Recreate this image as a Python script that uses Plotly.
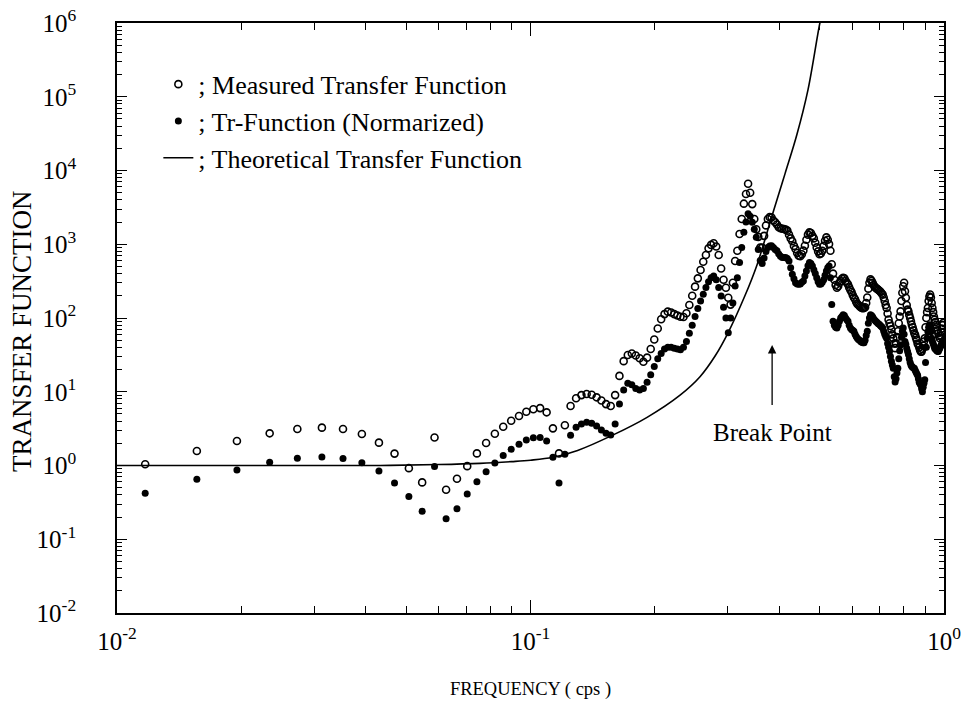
import math
import plotly.graph_objects as go

# Frequency bins (cps)
freq = [
    0.0117, 0.0156, 0.0195, 0.0234, 0.0273, 0.0313, 0.0352, 0.0391, 0.0430, 0.0469,
    0.0508, 0.0547, 0.0586, 0.0625, 0.0664, 0.0703, 0.0742, 0.0781, 0.0820, 0.0859,
    0.0898, 0.0938, 0.0977, 0.1016, 0.1055, 0.1094, 0.1133, 0.1172, 0.1211, 0.1250,
    0.1289, 0.1328, 0.1367, 0.1406, 0.1445, 0.1484, 0.1523, 0.1563, 0.1602, 0.1641,
    0.1680, 0.1719, 0.1758, 0.1797, 0.1836, 0.1875, 0.1914, 0.1953, 0.1992, 0.2031,
    0.2070, 0.2109, 0.2148, 0.2188, 0.2227, 0.2266, 0.2305, 0.2344, 0.2383, 0.2422,
    0.2461, 0.2500, 0.2539, 0.2578, 0.2617, 0.2656, 0.2695, 0.2734, 0.2773, 0.2813,
    0.2852, 0.2891, 0.2930, 0.2969, 0.3008, 0.3047, 0.3086, 0.3125, 0.3164, 0.3203,
    0.3242, 0.3281, 0.3320, 0.3359, 0.3398, 0.3438, 0.3477, 0.3516, 0.3555, 0.3594,
    0.3633, 0.3672, 0.3711, 0.3750, 0.3789, 0.3828, 0.3867, 0.3906, 0.3945, 0.3984,
    0.4023, 0.4063, 0.4102, 0.4141, 0.4180, 0.4219, 0.4258, 0.4297, 0.4336, 0.4375,
    0.4414, 0.4453, 0.4492, 0.4531, 0.4570, 0.4609, 0.4648, 0.4688, 0.4727, 0.4766,
    0.4805, 0.4844, 0.4883, 0.4922, 0.4961, 0.5000, 0.5039, 0.5078, 0.5117, 0.5156,
    0.5195, 0.5234, 0.5273, 0.5313, 0.5352, 0.5391, 0.5430, 0.5469, 0.5508, 0.5547,
    0.5586, 0.5625, 0.5664, 0.5703, 0.5742, 0.5781, 0.5820, 0.5859, 0.5898, 0.5938,
    0.5977, 0.6016, 0.6055, 0.6094, 0.6133, 0.6172, 0.6211, 0.6250, 0.6289, 0.6328,
    0.6367, 0.6406, 0.6445, 0.6484, 0.6523, 0.6563, 0.6602, 0.6641, 0.6680, 0.6719,
    0.6758, 0.6797, 0.6836, 0.6875, 0.6914, 0.6953, 0.6992, 0.7031, 0.7070, 0.7109,
    0.7148, 0.7188, 0.7227, 0.7266, 0.7305, 0.7344, 0.7383, 0.7422, 0.7461, 0.7500,
    0.7539, 0.7578, 0.7617, 0.7656, 0.7695, 0.7734, 0.7773, 0.7813, 0.7852, 0.7891,
    0.7930, 0.7969, 0.8008, 0.8047, 0.8086, 0.8125, 0.8164, 0.8203, 0.8242, 0.8281,
    0.8320, 0.8359, 0.8398, 0.8438, 0.8477, 0.8516, 0.8555, 0.8594, 0.8633, 0.8672,
    0.8711, 0.8750, 0.8789, 0.8828, 0.8867, 0.8906, 0.8945, 0.8984, 0.9023, 0.9063,
    0.9102, 0.9141, 0.9180, 0.9219, 0.9258, 0.9297, 0.9336, 0.9375, 0.9414, 0.9453,
    0.9492, 0.9531, 0.9570, 0.9609, 0.9648, 0.9688, 0.9727, 0.9766, 0.9805, 0.9844,
    0.9883, 0.9922, 0.9961,
]

# Measured transfer function (open circles)
measured = [
    1.04, 1.57, 2.15, 2.73, 3.13, 3.26, 3.13, 2.67, 2.04, 1.45,
    0.92, 0.59, 2.4, 0.47, 0.66, 0.98, 1.46, 2.02, 2.70, 3.36,
    4.05, 4.69, 5.36, 5.78, 6.0, 5.26, 3.19, 1.46, 3.51, 6.41,
    8.15, 9.0, 9.3, 9.1, 8.4, 7.6, 6.8, 6.4, 9.0, 16.4,
    26, 31.5, 33, 31, 28.4, 25.5, 29, 38, 51, 72,
    96, 113, 122, 119, 113, 108, 104, 103, 116, 150,
    200, 266, 345, 448, 580, 714, 880, 980, 1030, 930,
    714, 470, 330, 257, 188, 152, 300, 594, 815, 1380,
    2200, 3550, 4800, 6600, 5000, 3500, 2200, 1600, 1260, 900,
    900, 1300, 1800, 2200, 2330, 2300, 2100, 1990, 1850, 1700,
    1650, 1620, 1610, 1580, 1530, 1350, 1200, 1100, 950, 860,
    760, 700, 690, 733, 820, 953, 1150, 1350, 1450, 1420,
    1300, 1200, 1050, 906, 800, 733, 750, 815, 950, 1117,
    1240, 1150, 1005, 815, 536, 400, 330, 280, 257, 270,
    300, 318, 340, 352, 345, 320, 300, 286, 260, 240,
    225, 205, 190, 180, 165, 155, 150, 145, 140, 137,
    136, 137, 140, 160, 190, 250, 300, 334, 320, 301,
    280, 265, 257, 250, 245, 238, 232, 225, 215, 208,
    190, 170, 150, 137, 115, 95, 85, 78, 70, 60,
    53, 45, 39, 45, 55, 66, 85, 105, 123, 170,
    220, 270, 301, 230, 188, 150, 130, 123, 110, 100,
    90, 81, 75, 68, 62, 59, 54, 50, 45, 43,
    40, 37, 35, 35, 38, 42, 48, 53, 75, 100,
    120, 137, 170, 195, 208, 190, 160, 137, 120, 105,
    95, 88, 81, 75, 68, 62, 57, 53, 58, 64,
    72, 80, 86,
]

# Normalized transfer function (filled circles)
normalized = [
    0.42, 0.65, 0.87, 1.11, 1.25, 1.30, 1.24, 1.09, 0.84, 0.58,
    0.38, 0.24, 0.97, 0.19, 0.26, 0.41, 0.60, 0.82, 1.08, 1.37,
    1.66, 1.94, 2.22, 2.38, 2.40, 2.15, 1.29, 0.58, 1.42, 2.57,
    3.30, 3.65, 3.85, 3.74, 3.43, 3.03, 2.73, 2.6, 3.65, 6.8,
    10.6, 13.0, 12.4, 11.1, 10.6, 11.1, 13.5, 17, 22, 28,
    33, 38, 40, 40, 39, 38, 37, 40, 48, 62,
    80, 105, 135, 170, 210, 260, 310, 350, 372, 330,
    260, 198, 140, 100, 63, 100, 160, 272, 352, 564,
    906, 1450, 2000, 2590, 2400, 1990, 1600, 1240, 850, 600,
    550, 650, 800, 906, 950, 953, 900, 850, 815, 740,
    690, 661, 660, 661, 640, 594, 480, 392, 340, 301,
    290, 286, 290, 305, 318, 370, 434, 510, 564, 550,
    509, 450, 400, 352, 310, 286, 290, 305, 330, 380,
    434, 480, 509, 352, 152, 90, 80, 75, 73, 80,
    90, 100, 105, 111, 108, 100, 95, 90, 80, 73,
    70, 68, 66, 60, 56, 53, 51, 50, 48, 47,
    46, 46, 50, 58, 66, 85, 100, 111, 108, 104,
    98, 94, 90, 88, 85, 83, 81, 78, 76, 73,
    66, 60, 56, 53, 45, 40, 35, 30, 26, 23,
    20.8, 16, 13.6, 15, 18, 20.8, 28, 36, 43, 55,
    66, 73, 60, 48, 44, 39, 35, 32, 28, 25,
    23, 22, 21.5, 21, 20.8, 19.5, 18.5, 17.5, 16.8, 15,
    13.5, 12.8, 12.3, 11, 10, 11.5, 13, 14.5, 25, 40,
    53, 65, 75, 81, 75, 65, 53, 48, 45, 42,
    39, 38, 37, 36, 35.5, 35, 37, 39, 41, 43,
    45, 48, 50,
]

# Theoretical transfer function (solid line)
theory_freq = [0.0100, 0.0200, 0.0300, 0.0433, 0.0600, 0.0755, 0.0900, 0.1000,
               0.1132, 0.1300, 0.1585, 0.1914, 0.2300, 0.2570, 0.2800, 0.3000,
               0.3300, 0.3530, 0.3840, 0.4125, 0.4410, 0.4690, 0.5010, 0.5100]
theory_val = [1.0, 1.0, 1.0, 1.0, 1.03, 1.07, 1.13, 1.18,
              1.29, 1.6, 2.6, 4.5, 9.0, 16, 31, 62,
              200, 525, 2450, 9000, 31000, 125000, 1000000, 1500000]

# Break point marker (frequency, level of arrow head)
break_freq = 0.384
break_arrow_level = 43
break_label = 'Break Point'

x_title = 'FREQUENCY ( cps )'
y_title = 'TRANSFER FUNCTION'

x_ticks = [0.01, 0.1, 1]
x_tick_text = ['10<sup>-2</sup>', '10<sup>-1</sup>', '10<sup>0</sup>']
y_ticks = [1e-2, 1e-1, 1e0, 1e1, 1e2, 1e3, 1e4, 1e5, 1e6]
y_tick_text = ['10<sup>-2</sup>', '10<sup>-1</sup>', '10<sup>0</sup>', '10<sup>1</sup>',
               '10<sup>2</sup>', '10<sup>3</sup>', '10<sup>4</sup>', '10<sup>5</sup>',
               '10<sup>6</sup>']

FONT = 'Liberation Serif'

fig = go.Figure()
fig.add_trace(go.Scatter(
    x=freq, y=measured, mode='markers', name='; Measured Transfer Function',
    legendgroup='a',
    marker=dict(symbol='circle-open', size=7, color='black', line=dict(width=1.6, color='black')),
))
fig.add_trace(go.Scatter(
    x=freq, y=normalized, mode='markers', name='; Tr-Function (Normarized)',
    legendgroup='b',
    marker=dict(symbol='circle', size=7, color='black'),
))
fig.add_trace(go.Scatter(
    x=theory_freq, y=theory_val, mode='lines', name='; Theoretical Transfer Function',
    legendgroup='c',
    line=dict(color='black', width=1.6, shape='spline', smoothing=1.0),
))

x_minor = [m * 10.0 ** e for e in (-2, -1) for m in range(2, 10)]
y_minor = [m * 10.0 ** e for e in range(-2, 6) for m in range(2, 10)]

fig.update_xaxes(
    type='log', range=[-2, 0], tickvals=x_ticks, ticktext=x_tick_text,
    ticks='inside', ticklen=13, tickwidth=1.2, tickcolor='black',
    showline=True, linewidth=1.6, linecolor='black', mirror='allticks',
    showgrid=False, zeroline=False, ticklabelstandoff=5, automargin=False,
    tickfont=dict(family=FONT, size=25, color='black'),
    minor=dict(tickvals=x_minor, ticks='inside', ticklen=7, tickwidth=1, tickcolor='black', showgrid=False),
    title=dict(text=x_title, font=dict(family=FONT, size=18.5, color='black'), standoff=28),
)
fig.update_yaxes(
    type='log', range=[-2, 6], tickvals=y_ticks, ticktext=y_tick_text,
    ticks='inside', ticklen=10, tickwidth=1.2, tickcolor='black',
    showline=True, linewidth=1.6, linecolor='black', mirror='allticks',
    showgrid=False, zeroline=False, ticklabelstandoff=34, automargin=False,
    tickfont=dict(family=FONT, size=25, color='black'),
    minor=dict(tickvals=y_minor, ticks='inside', ticklen=5, tickwidth=1, tickcolor='black', showgrid=False),
)

# Y-axis title placed as rotated text (slightly below the axis centre, as in the source)
fig.add_annotation(
    xref='paper', yref='paper', x=-0.115, y=0.478, xanchor='center', yanchor='middle',
    text=y_title, textangle=-90, showarrow=False,
    font=dict(family=FONT, size=27, color='black'),
)

# Annotation positions on log axes are given in log10 units
fig.add_annotation(
    x=math.log10(break_freq), y=math.log10(break_arrow_level), xref='x', yref='y',
    text=break_label, showarrow=True, ax=0, ay=87, startstandoff=12,
    arrowhead=2, arrowsize=1.3, arrowwidth=1.3, arrowcolor='black',
    font=dict(family=FONT, size=25, color='black'),
)

fig.update_layout(
    width=964, height=705,
    margin=dict(l=117, r=20, t=23, b=92),
    plot_bgcolor='white', paper_bgcolor='white',
    font=dict(family=FONT, color='black', size=19),
    legend=dict(
        x=0.05, y=0.936, xanchor='left', yanchor='top',
        bgcolor='rgba(0,0,0,0)', font=dict(family=FONT, size=26, color='black'),
        tracegroupgap=0,
    ),
)

fig.write_html('out.html', config={'displayModeBar': False},
               post_script="document.body.style.margin='0px';")
